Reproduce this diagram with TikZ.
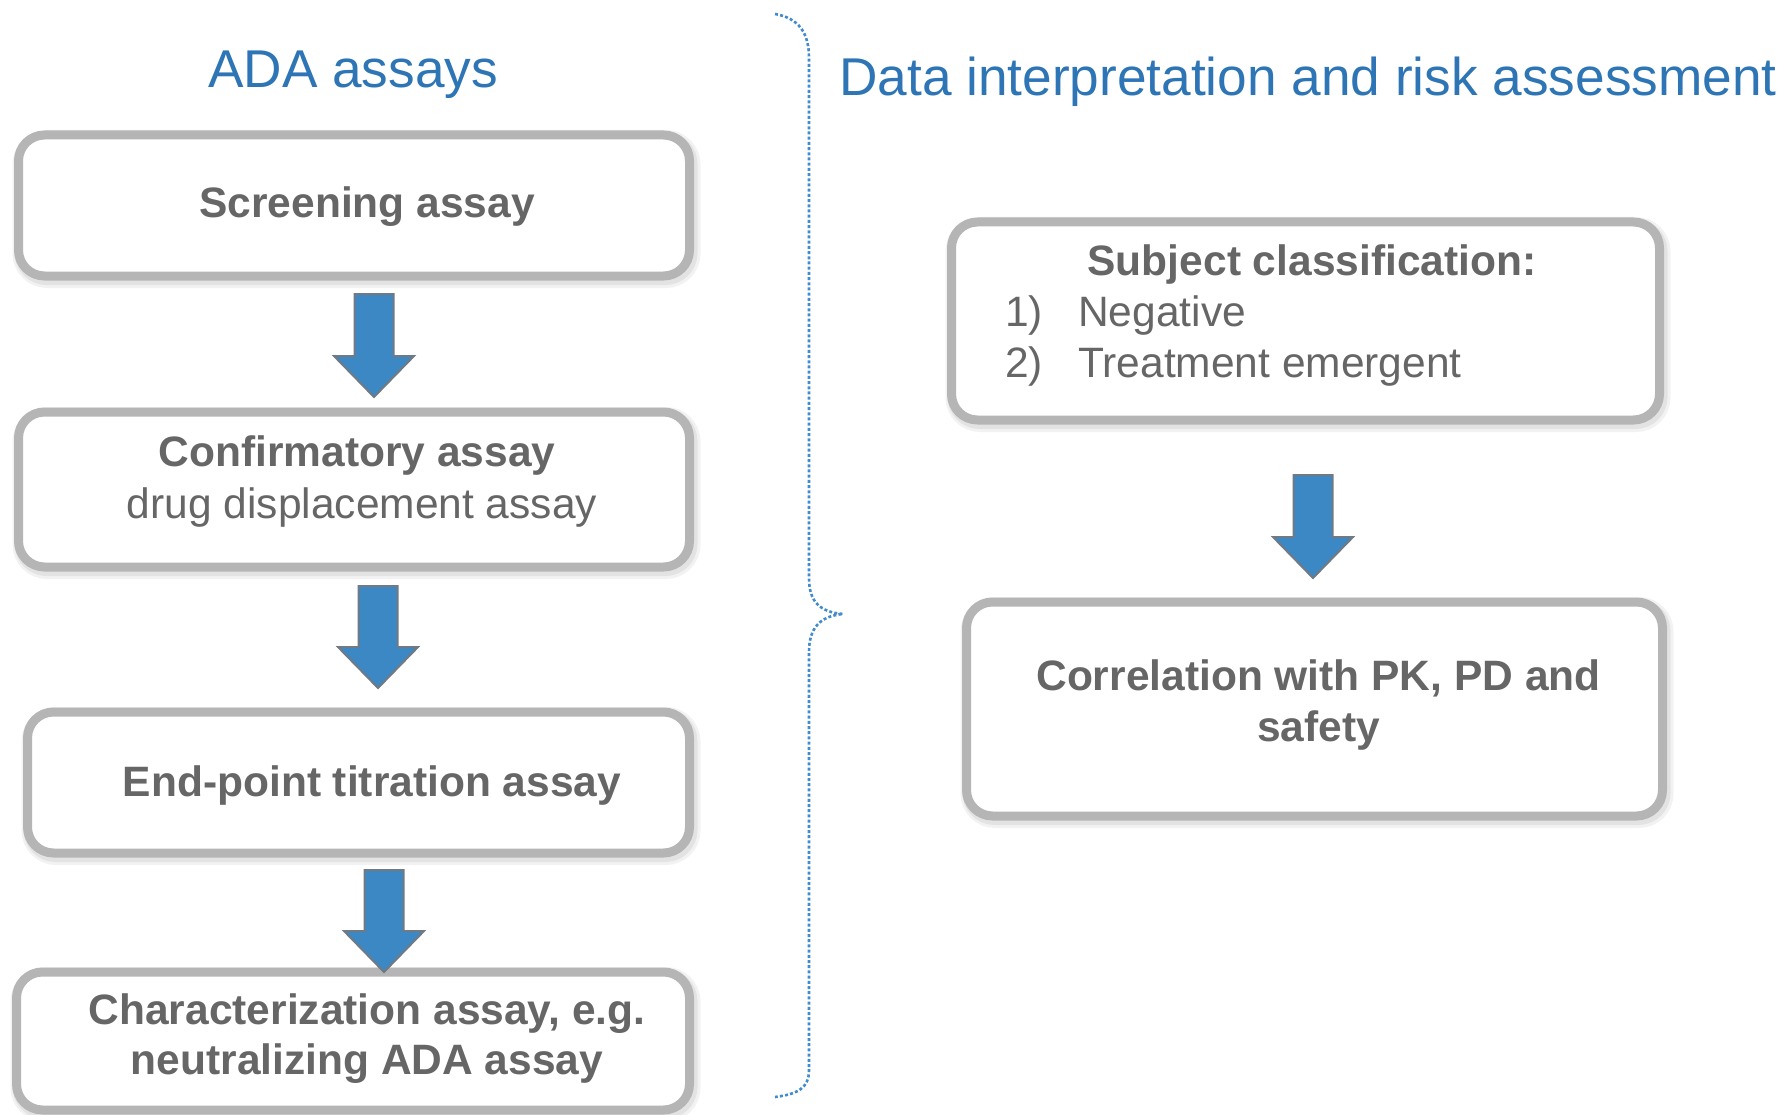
\documentclass[tikz,border=0pt]{standalone}
\usepackage{fontspec}
\setmainfont{Liberation Sans}

\definecolor{titleblue}{RGB}{46,117,182}
\definecolor{bodygray}{RGB}{102,102,102}
\definecolor{framegray}{RGB}{181,181,181}
\definecolor{arrowblue}{RGB}{59,136,197}
\definecolor{arrowedge}{RGB}{112,122,132}
\definecolor{bracedot}{RGB}{66,140,205}

\newcommand\bodysize{\fontsize{42.5}{51}\selectfont}
\newcommand\titlesize{\fontsize{53.2}{64}\selectfont}

% downward block arrow: centre x, top y, tip y (y grows downwards)
\newcommand\blockarr[3]{%
  \filldraw[fill=arrowblue, draw=arrowedge, line width=2, line join=miter]
    (#1-19.5,#2) -- (#1+19.5,#2) -- (#1+19.5,#3-41) -- (#1+40,#3-41)
    -- (#1,#3) -- (#1-40,#3-41) -- (#1-19.5,#3-41) -- cycle;}

\tikzset{
  frame/.style={draw=framegray, line width=9, rounded corners=26, fill=white,
    inner sep=0, rectangle,
    preaction={draw=black, opacity=0.05, line width=17,
      transform canvas={shift={(2.5pt,-3.5pt)}}},
    preaction={draw=black, opacity=0.06, line width=12,
      transform canvas={shift={(2pt,-3pt)}}}},
  body/.style={font=\bodysize, text=bodygray, inner sep=0, anchor=base},
  boldtext/.style={body, font=\bodysize\bfseries},
  heading/.style={font=\titlesize, text=titleblue, inner sep=0, anchor=base},
}

\begin{document}
\begin{tikzpicture}[x=1pt, y=-1pt]
\useasboundingbox[fill=white] (0,0) rectangle (1787,1115);

% column titles
\node[heading] (tleft) at (353,88) {ADA assays};
\node[heading] (tright) at (1308,96) {Data interpretation and risk assessment};

% left column: assay cascade
\node[frame, minimum width=671, minimum height=141] (box1) at (354,205.5) {};
\node[frame, minimum width=671, minimum height=155] (box2) at (354,489.5) {};
\node[frame, minimum width=662, minimum height=141] (box3) at (358.5,782.5) {};
\node[frame, minimum width=673, minimum height=138] (box4) at (353,1041) {};

\node[boldtext] (s1) at (367,218) {Screening assay};
\node[boldtext] (s2a) at (357,466) {Confirmatory assay};
\node[body] (s2b) at (362,518) {drug displacement assay};
\node[boldtext] (s3) at (372,796) {End-point titration assay};
\node[boldtext] (s4a) at (367,1024) {Characterization assay, e.g.};
\node[boldtext] (s4b) at (367,1074) {neutralizing ADA assay};

\blockarr{374}{294}{397}
\blockarr{378}{586}{688}
\blockarr{384}{870}{972}

% right column: interpretation
\node[frame, minimum width=708, minimum height=198] (box5) at (1305.5,321) {};
\node[frame, minimum width=696, minimum height=214] (box6) at (1314.5,709) {};

\node[boldtext] (c0) at (1312,276) {Subject classification:};
\node[body, anchor=base west] (c1n) at (1005,326) {1)};
\node[body, anchor=base west] (c1) at (1078,326) {Negative};
\node[body, anchor=base west] (c2n) at (1005,377) {2)};
\node[body, anchor=base west] (c2) at (1078,377) {Treatment emergent};

\node[boldtext] (r1) at (1318.5,690) {Correlation with PK, PD and};
\node[boldtext] (r2) at (1318.5,741) {safety};

\blockarr{1313}{475}{578}

% dotted curly brace between the columns
\draw[bracedot, line width=2.6, dash pattern=on 3 off 2.2]
  (775,14) .. controls (798,18) and (809,32) .. (809,58)
  -- (809,578) .. controls (809,602) and (820,612) .. (843,614)
  .. controls (820,616) and (809,628) .. (809,652)
  -- (809,1070) .. controls (809,1088) and (798,1094) .. (775,1097);
\end{tikzpicture}
\end{document}
